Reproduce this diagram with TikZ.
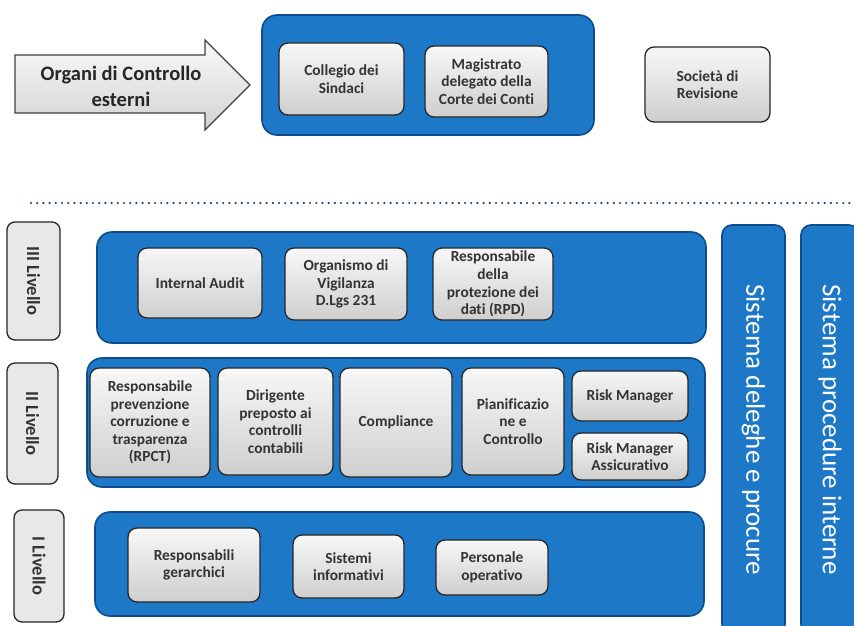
\documentclass[tikz,border=0pt]{standalone}
\usepackage{fontspec}
\setmainfont{Carlito}[Ligatures=NoCommon]

\definecolor{ctrlblue}{HTML}{1E78C8}
\definecolor{ctrledge}{HTML}{0E4C8C}
\definecolor{dotblue}{HTML}{1B3F73}

\begin{document}
\begin{tikzpicture}[x=1pt,y=-1pt,
  panel/.style={draw=ctrledge,line width=1.6pt,fill=ctrlblue,rounded corners=15pt},
  unit/.style 2 args={draw=black!85,line width=1.3pt,rounded corners=9pt,
    top color=gray!6,bottom color=gray!38,minimum width=#1,minimum height=#2,
    align=center,inner sep=2pt,text=black!80,font=\fontsize{15.4}{17.6}\selectfont\bfseries},
  level/.style={draw=black!85,line width=1.3pt,rounded corners=8pt,fill=gray!18,
    rotate=-90,minimum width=#1,inner sep=2pt,text=black!80,
    font=\fontsize{18.5}{20}\selectfont\bfseries},
  column/.style={panel,rounded corners=10pt,rotate=-90,minimum width=409,minimum height=63,
    text=white,font=\fontsize{27}{30}\selectfont}]
  \clip (0,0) rectangle (854,626);
  \fill[white] (0,0) rectangle (854,626);

  \draw[draw=black!75,line width=1.3pt,top color=gray!4,bottom color=gray!35]
    (15,55) -- (205,55) -- (205,40) -- (250,85) -- (205,130) -- (205,113) -- (15,113) -- cycle;
  \node[align=center,text=black!85,font=\fontsize{20.5}{26}\selectfont\bfseries] (ext) at (121,86) {Organi di Controllo\\esterni};

  \node[panel,minimum width=332,minimum height=120] (top) at (428,75) {};
  \node[unit={125}{72}] (coll) at (341.5,79) {Collegio dei\\Sindaci};
  \node[unit={123}{71}] (magi) at (486.5,81.5) {Magistrato\\delegato della\\Corte dei Conti};
  \node[unit={125}{75}] (soc) at (707.5,84.5) {Società di\\Revisione};

  \draw[dotblue,line width=2.4pt,line cap=round,dash pattern=on 0pt off 6.2pt] (31,203) -- (850,203);

  \node[level=118,minimum height=53] (liv3) at (33.5,281) {III Livello};
  \node[panel,minimum width=609,minimum height=111] (terzo) at (401.5,287.5) {};
  \node[unit={124}{70}] (ia) at (200,283) {Internal Audit};
  \node[unit={122}{72}] (odv) at (346,284) {Organismo di\\Vigilanza\\D.Lgs 231};
  \node[unit={120}{72}] (rpd) at (493,284) {Responsabile\\della\\protezione dei\\dati (RPD)};

  \node[column] (deleghe) at (753.5,429.5) {Sistema deleghe e procure};
  \node[column,minimum height=58] (procedure) at (830,429.5) {Sistema procedure interne};

  \node[level=121,minimum height=51] (liv2) at (32.5,423.5) {II Livello};
  \node[panel,minimum width=618,minimum height=129] (secondo) at (396,422.5) {};
  \node[unit={120}{109}] (rpct) at (150,422.5) {Responsabile\\prevenzione\\corruzione e\\trasparenza\\(RPCT)};
  \node[unit={115}{107}] (dir) at (275.5,421.5) {Dirigente\\preposto ai\\controlli\\contabili};
  \node[unit={112}{109}] (comp) at (396,422.5) {Compliance};
  \node[unit={102}{107}] (pian) at (513,421.5) {Pianificazio\\ne e\\Controllo};
  \node[unit={116}{50}] (risk) at (630,396) {Risk Manager};
  \node[unit={116}{47}] (riska) at (630,456.5) {Risk Manager\\Assicurativo};

  \node[level=112,minimum height=50] (liv1) at (39,566) {I Livello};
  \node[panel,minimum width=609,minimum height=104] (primo) at (399.5,564) {};
  \node[unit={132}{74}] (resp) at (194,565) {Responsabili\\gerarchici};
  \node[unit={111}{63}] (sist) at (348.5,566.5) {Sistemi\\informativi};
  \node[unit={112}{55}] (pers) at (492,567.5) {Personale\\operativo};
\end{tikzpicture}
\end{document}
